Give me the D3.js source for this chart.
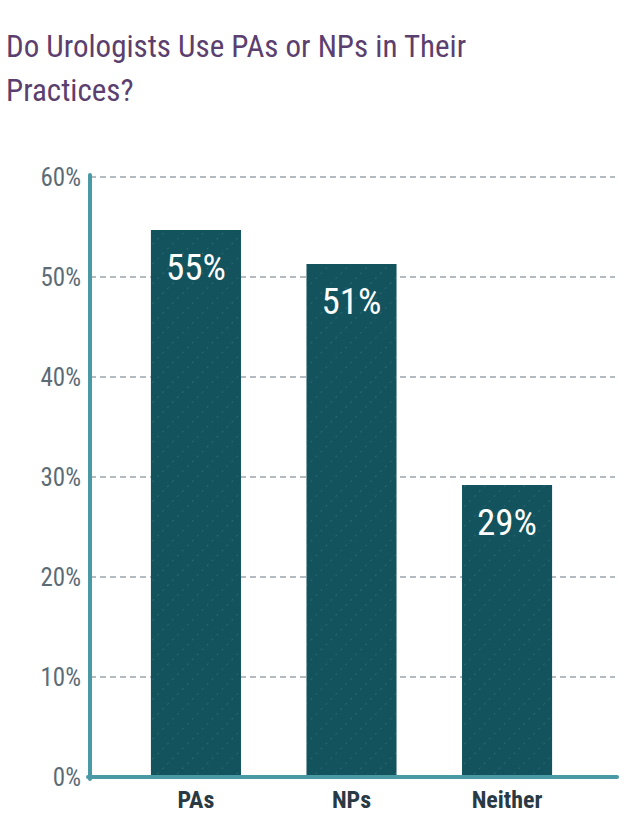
<!DOCTYPE html><html><head><meta charset="utf-8"><script src="https://cdn.jsdelivr.net/npm/d3@7"></script>
<style>body{margin:0;background:#fff}</style></head><body><svg id="c" width="640" height="837"></svg>
<script>
const categories=["PAs","NPs","Neither"];
const values=[54.7,51.3,29.2];
const labels=["55%","51%","29%"];
const ticks=[0,10,20,30,40,50,60];
const svg=d3.select("#c");
const font="'Roboto Condensed','Roboto',sans-serif";
const defs=svg.append("defs");
const p=defs.append("pattern").attr("id","tex").attr("patternUnits","userSpaceOnUse").attr("width",14).attr("height",14).attr("patternTransform","rotate(45)");
p.append("rect").attr("width",14).attr("height",14).attr("fill","#12535e");
p.append("line").attr("x1",0).attr("y1",0).attr("x2",0).attr("y2",14).attr("stroke","#4f8a92").attr("stroke-width",0.8).attr("stroke-dasharray","2,5");
svg.append("text").attr("x",6).attr("y",57).attr("font-family",font).attr("font-size",31).attr("fill","#5b3f6e").text("Do Urologists Use PAs or NPs in Their");
svg.append("text").attr("x",6).attr("y",101).attr("font-family",font).attr("font-size",31).attr("fill","#5b3f6e").text("Practices?");
const y=d3.scaleLinear().domain([0,60]).range([777,177]);
const x=d3.scaleBand().domain(categories).range([118.25,584.75]).paddingInner(0.421).paddingOuter(0.21);
svg.selectAll(".g").data(ticks.slice(1)).join("line").attr("x1",90).attr("x2",615).attr("y1",d=>y(d)).attr("y2",d=>y(d)).attr("stroke","#6b7b85").attr("stroke-width",1.2).attr("stroke-dasharray","6,4");
svg.selectAll(".t").data(ticks).join("text").attr("x",81).attr("y",d=>y(d)+9).attr("text-anchor","end").attr("font-family",font).attr("font-size",25).attr("fill","#5c6c77").text(d=>d+"%");
svg.selectAll(".b").data(values).join("rect").attr("x",(d,i)=>x(categories[i])).attr("width",x.bandwidth()).attr("y",d=>y(d)).attr("height",d=>y(0)-y(d)).attr("fill","url(#tex)");
svg.selectAll(".l").data(values).join("text").attr("x",(d,i)=>x(categories[i])+x.bandwidth()/2).attr("y",d=>y(d)+50).attr("text-anchor","middle").attr("font-family",font).attr("font-size",37).attr("fill","#fff").text((d,i)=>labels[i]);
svg.selectAll(".c").data(categories).join("text").attr("x",d=>x(d)+x.bandwidth()/2).attr("y",808).attr("text-anchor","middle").attr("font-family",font).attr("font-weight","bold").attr("font-size",24).attr("fill","#2a3a45").text(d=>d);
svg.append("line").attr("x1",90).attr("x2",90).attr("y1",175).attr("y2",779).attr("stroke","#4a9aa5").attr("stroke-width",4).attr("stroke-linecap","round");
svg.append("line").attr("x1",88).attr("x2",617).attr("y1",777).attr("y2",777).attr("stroke","#4a9aa5").attr("stroke-width",4).attr("stroke-linecap","round");
</script></body></html>
